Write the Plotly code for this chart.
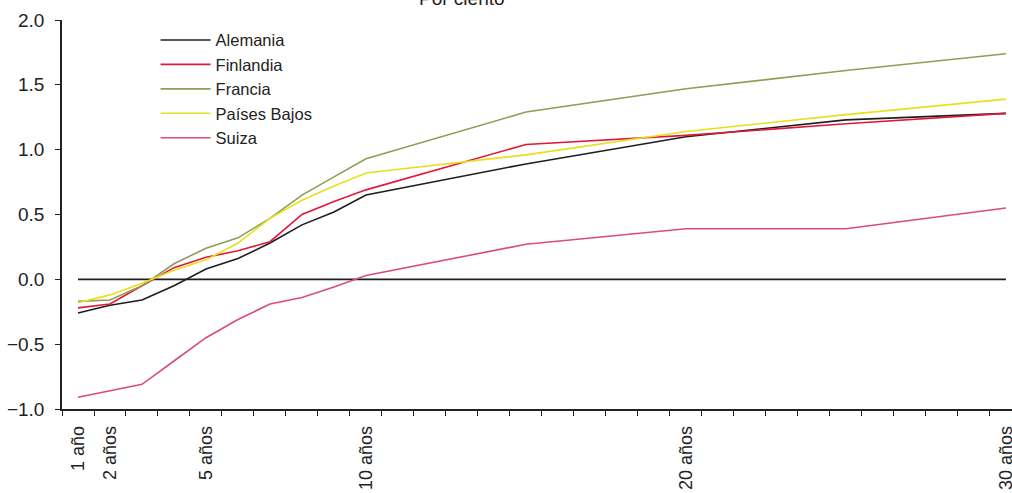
import plotly.graph_objects as go

years = list(range(1, 11)) + [15, 20, 25, 30]
tick_years = [1, 2, 5, 10, 20, 30]
tick_labels = ["1 año", "2 años", "5 años", "10 años", "20 años", "30 años"]

alemania = [-0.26, -0.20, -0.16, -0.05, 0.08, 0.16, 0.28, 0.42, 0.52, 0.65, 0.89, 1.10, 1.23, 1.28]
finlandia = [-0.22, -0.19, -0.05, 0.09, 0.17, 0.22, 0.29, 0.50, 0.60, 0.69, 1.04, 1.11, 1.20, 1.28]
francia = [-0.17, -0.16, -0.05, 0.12, 0.24, 0.32, 0.47, 0.65, 0.79, 0.93, 1.29, 1.47, 1.61, 1.74]
paises_bajos = [-0.18, -0.12, -0.03, 0.07, 0.15, 0.28, 0.47, 0.61, 0.72, 0.82, 0.96, 1.14, 1.27, 1.39]
suiza = [-0.91, -0.86, -0.81, -0.63, -0.45, -0.31, -0.19, -0.14, -0.06, 0.03, 0.27, 0.39, 0.39, 0.55]
zero_line = [0.0] * len(years)

series = [
    ("Alemania", alemania, "#1e1e1e"),
    ("Finlandia", finlandia, "#e3173a"),
    ("Francia", francia, "#8f9d55"),
    ("Países Bajos", paises_bajos, "#e6e01e"),
    ("Suiza", suiza, "#d84d79"),
]

fig = go.Figure()
fig.add_trace(go.Scatter(x=[years[0], years[-1]], y=[zero_line[0], zero_line[-1]], mode="lines",
                         line=dict(color="#1e1e1e", width=1.6), showlegend=False, hoverinfo="skip"))
for name, vals, color in series:
    fig.add_trace(go.Scatter(x=years, y=vals, mode="lines", name=name,
                             line=dict(color=color, width=1.6)))

fig.update_layout(
    width=1012, height=493,
    margin=dict(l=62, r=0, t=20, b=84, autoexpand=False),
    paper_bgcolor="white", plot_bgcolor="white",
    font=dict(family="Liberation Sans, Arial, sans-serif", size=19, color="#222"),
    showlegend=True,
    legend=dict(x=0.0985, y=0.993, xanchor="left", yanchor="top",
                bgcolor="rgba(0,0,0,0)", itemwidth=50, tracegroupgap=0,
                font=dict(size=16.5, color="#222")),
    annotations=[dict(text="Por ciento", xref="paper", yref="paper", x=0.421, y=1.023,
                      xanchor="center", yanchor="bottom", showarrow=False,
                      font=dict(size=19, color="#222"))],
)
fig.update_xaxes(
    range=[0.5, 30.19], tickmode="array", tickvals=tick_years, ticktext=tick_labels,
    tickangle=-90, ticks="", showgrid=False, zeroline=False, automargin=False,
    ticklabeloverflow="allow",
    showline=True, linecolor="#222", linewidth=1.5, ticklabelstandoff=8,
    tickfont=dict(size=18, color="#222"),
    minor=dict(ticks="outside", tick0=0.5, dtick=1, ticklen=5, tickcolor="#222", tickwidth=1.2, showgrid=False),
)
fig.update_yaxes(
    range=[-1, 2], dtick=0.5, tickformat=".1f", ticks="outside", ticklen=5,
    tickcolor="#222", tickwidth=1.2, showgrid=False, zeroline=False, automargin=False,
    showline=True, linecolor="#222", linewidth=1.5, ticklabelstandoff=7,
    tickfont=dict(size=19, color="#222"),
)

fig.write_html("out.html", config={"displayModeBar": False},
               post_script="document.body.style.margin='0';")
